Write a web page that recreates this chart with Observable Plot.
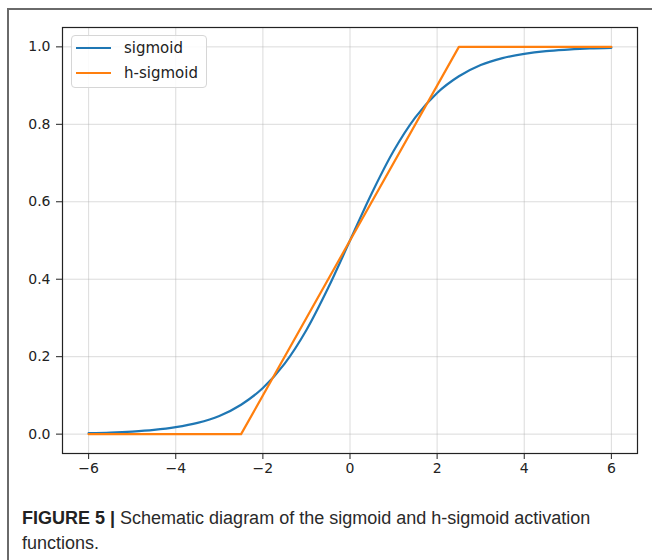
<!DOCTYPE html>
<html>
<head>
<meta charset="utf-8">
<script src="https://cdn.jsdelivr.net/npm/d3@7"></script>
<script src="https://cdn.jsdelivr.net/npm/@observablehq/plot@0.6"></script>
<style>
  html, body { margin: 0; padding: 0; background: #fff; }
  #wrap { position: relative; width: 652px; height: 560px; overflow: hidden; }
  #frame { position: absolute; left: 7px; top: 8px; width: 700px; height: 600px;
           border-left: 2px solid #6a6a6a; border-top: 2px solid #6a6a6a; }
  #chart { position: absolute; left: 0; top: 0; }
  #chart svg text { font-family: "DejaVu Sans", sans-serif !important; font-size: 14px !important; }
  #legend { position: absolute; left: 71px; top: 35px; width: 134px; height: 51px;
            border: 1px solid #d6d6d6; border-radius: 4px; background: rgba(255,255,255,0.85);
            font-family: "DejaVu Sans", sans-serif; font-size: 15px; color: #222; }
  .item { position: absolute; left: 4px; display: flex; align-items: center; }
  .item span.sw { display: inline-block; width: 35px; height: 2px; margin-right: 13px; }
  #caption { position: absolute; left: 22px; top: 506px; width: 620px;
             font-family: "Liberation Sans Narrow", "Liberation Sans", sans-serif;
             font-size: 18px; line-height: 25px; color: #2a2a2a; }
  #caption div { white-space: nowrap; }
  #caption b { color: #222; }
</style>
</head>
<body>
<div id="wrap">
  <div id="frame"></div>
  <div id="chart"></div>
  <div id="legend"></div>
  <div id="caption">
    <div><b>FIGURE 5 |</b><span> Schematic diagram of the sigmoid and h-sigmoid activation</span></div>
    <div>functions.</div>
  </div>
</div>
<script>
// Data
const seriesNames = ["sigmoid", "h-sigmoid"];
const seriesColors = ["#1f77b4", "#ff7f0e"];

const sigmoidX = [-6, -5.5, -5, -4.5, -4, -3.5, -3, -2.5, -2, -1.5, -1, -0.5, 0, 0.5, 1, 1.5, 2, 2.5, 3, 3.5, 4, 4.5, 5, 5.5, 6];
const sigmoidY = [0.0025, 0.004, 0.0067, 0.011, 0.018, 0.029, 0.047, 0.076, 0.119, 0.182, 0.269, 0.378, 0.5, 0.622, 0.731, 0.818, 0.881, 0.924, 0.953, 0.971, 0.982, 0.989, 0.993, 0.996, 0.9975];

const hsigmoidX = [-6, -2.5, 2.5, 6];
const hsigmoidY = [0, 0, 1, 1];

const xTicks = [-6, -4, -2, 0, 2, 4, 6];
const yTicks = [0.0, 0.2, 0.4, 0.6, 0.8, 1.0];

const sigData = sigmoidX.map((x, i) => ({x, y: sigmoidY[i]}));
const hData = hsigmoidX.map((x, i) => ({x, y: hsigmoidY[i]}));

const chart = Plot.plot({
  width: 652,
  height: 480,
  marginLeft: 62,
  marginRight: 15,
  marginTop: 27,
  marginBottom: 27,
  style: { fontFamily: "DejaVu Sans, sans-serif", fontSize: "14px", color: "#222", background: "transparent" },
  x: { domain: [-6.6, 6.6] },
  y: { domain: [-0.05, 1.05] },
  marks: [
    Plot.gridX(xTicks, { stroke: "#b0b0b0", strokeOpacity: 0.45, strokeWidth: 1 }),
    Plot.gridY(yTicks, { stroke: "#b0b0b0", strokeOpacity: 0.45, strokeWidth: 1 }),
    Plot.line(sigData, { x: "x", y: "y", stroke: seriesColors[0], strokeWidth: 2.2, curve: "monotone-x" }),
    Plot.line(hData, { x: "x", y: "y", stroke: seriesColors[1], strokeWidth: 2.2 }),
    Plot.axisX(xTicks, { tickSize: 6, tickPadding: 4, label: null, stroke: "#222", fill: "#222", fontSize: 14 }),
    Plot.axisY(yTicks, { tickSize: 6, tickPadding: 6, label: null, tickFormat: ".1f", stroke: "#222", fill: "#222", fontSize: 14 }),
    Plot.frame({ stroke: "#222", strokeWidth: 1.2 })
  ]
});
document.getElementById("chart").appendChild(chart);

const legend = document.getElementById("legend");
seriesNames.forEach((name, i) => {
  const item = document.createElement("div");
  item.className = "item";
  item.style.top = (i === 0 ? 1 : 26) + "px";
  item.style.height = "22px";
  const sw = document.createElement("span");
  sw.className = "sw";
  sw.style.background = seriesColors[i];
  const t = document.createElement("span");
  t.textContent = name;
  item.appendChild(sw);
  item.appendChild(t);
  legend.appendChild(item);
});
</script>
</body>
</html>
